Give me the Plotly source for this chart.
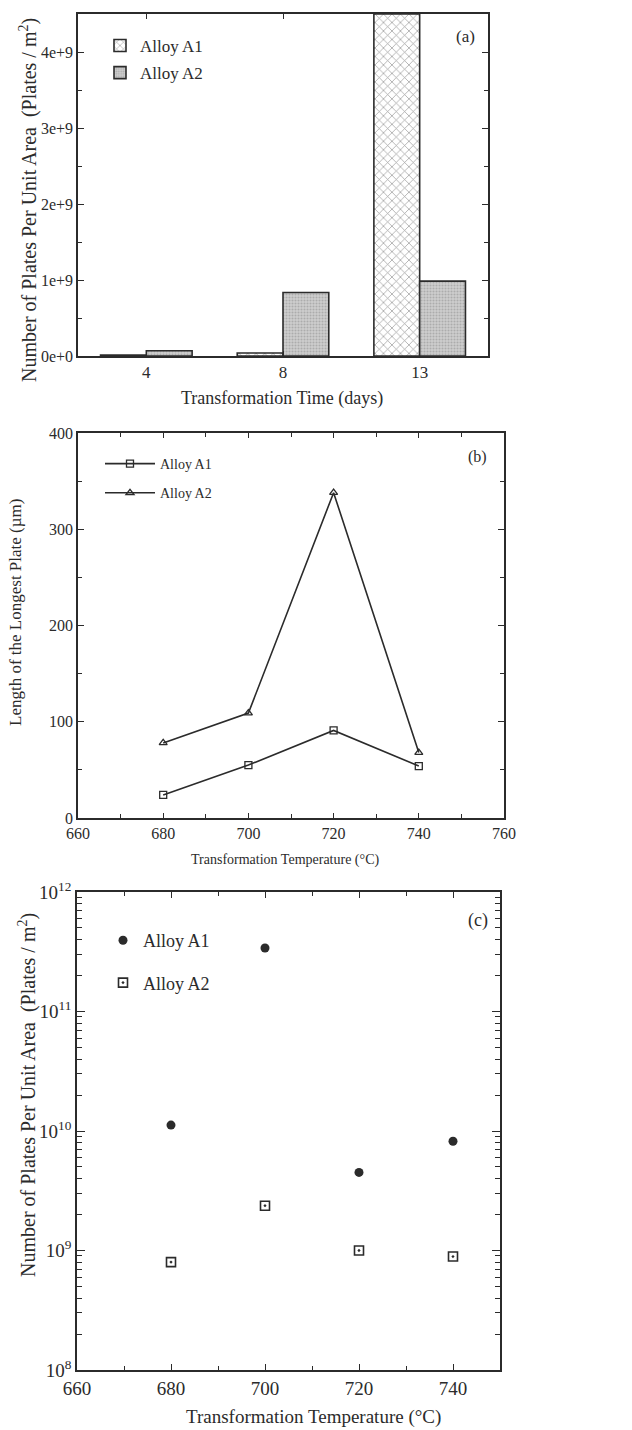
import plotly.graph_objects as go

# ---------------- data ----------------
# (a) bars
times = ["4", "8", "13"]
a1_density = [0.012e9, 0.04e9, 4.5e9]
a2_density = [0.07e9, 0.835e9, 0.985e9]
a_ytickvals = [0, 1e9, 2e9, 3e9, 4e9]
a_yticktext = ["0e+0", "1e+9", "2e+9", "3e+9", "4e+9"]

# (b) longest plate length
temps_b = [680, 700, 720, 740]
a1_length = [24, 55, 91, 54]
a2_length = [78, 109, 338, 68]

# (c) plates per unit area vs temperature (log)
temps_c = [680, 700, 720, 740]
a1_number = [1.12e10, 3.4e11, 4.5e9, 8.2e9]
a2_number = [8.0e8, 2.37e9, 1.0e9, 8.9e8]
c_ytickvals = [1e8, 1e9, 1e10, 1e11, 1e12]
c_yticktext = ["10<sup>8</sup>", "10<sup>9</sup>", "10<sup>10</sup>", "10<sup>11</sup>", "10<sup>12</sup>"]

FONT = "Liberation Serif"
INK = "#2b2b2b"
W, H = 632, 1430

def px(x):
    return x / W

def py(y):
    return (H - y) / H

fig = go.Figure()

# ---- panel (a)
fig.add_trace(go.Bar(
    x=times, y=a1_density, name="Alloy A1", xaxis="x", yaxis="y",
    marker=dict(color="white", line=dict(color=INK, width=1.6),
                pattern=dict(shape="x", fgcolor="#333", bgcolor="white", size=6, solidity=0.22)),
    legend="legend", legendgroup="a1",
))
fig.add_trace(go.Bar(
    x=times, y=a2_density, name="Alloy A2", xaxis="x", yaxis="y",
    marker=dict(color="#c4c4c4", line=dict(color=INK, width=1.6),
                pattern=dict(shape=".", fgcolor="#8a8a8a", bgcolor="#cfcfcf", size=3, solidity=0.4)),
    legend="legend", legendgroup="a2",
))

# ---- panel (b)
fig.add_trace(go.Scatter(
    x=temps_b, y=a1_length, name="Alloy A1", mode="lines+markers", xaxis="x2", yaxis="y2",
    line=dict(color=INK, width=1.6),
    marker=dict(symbol="square-open", size=7, color=INK, line=dict(width=1.3)),
    legend="legend2", legendgroup="b1",
))
fig.add_trace(go.Scatter(
    x=temps_b, y=a2_length, name="Alloy A2", mode="lines+markers", xaxis="x2", yaxis="y2",
    line=dict(color=INK, width=1.6),
    marker=dict(symbol="triangle-up-open", size=7, color=INK, line=dict(width=1.3)),
    legend="legend2", legendgroup="b2",
))

# ---- panel (c)
fig.add_trace(go.Scatter(
    x=temps_c, y=a1_number, name="Alloy A1", mode="markers", xaxis="x3", yaxis="y3",
    marker=dict(symbol="circle", size=9, color=INK),
    legend="legend3", legendgroup="c1",
))
fig.add_trace(go.Scatter(
    x=temps_c, y=a2_number, name="Alloy A2", mode="markers", xaxis="x3", yaxis="y3",
    marker=dict(symbol="square-open-dot", size=9, color=INK, line=dict(width=1.6)),
    legend="legend3", legendgroup="c2",
))

axis_common = dict(showline=True, linecolor=INK, linewidth=1.6, mirror="ticks",
                   ticks="inside", tickcolor=INK, tickwidth=1.3, showgrid=False, zeroline=False,
                   automargin=False)

minor_c = [k * 10 ** n for n in range(8, 12) for k in range(2, 10)]

fig.update_layout(
    width=W, height=H, margin=dict(l=0, r=0, t=0, b=0, pad=0, autoexpand=False),
    paper_bgcolor="white", plot_bgcolor="white",
    font=dict(family=FONT, color=INK),
    barmode="group", bargap=0.33, bargroupgap=0,
    xaxis=dict(domain=[px(78), px(488)], anchor="y", type="category",
               tickfont=dict(size=17), ticklen=5, **axis_common),
    yaxis=dict(domain=[py(356), py(14)], anchor="x", range=[0, 4.5e9],
               tickvals=a_ytickvals, ticktext=a_yticktext, tickfont=dict(size=16), ticklen=6,
               minor=dict(dtick=0.5e9, tick0=0, ticks="inside", ticklen=4, tickcolor=INK),
               **axis_common),
    xaxis2=dict(domain=[px(78), px(504)], anchor="y2", range=[660, 760],
                tickvals=[660, 680, 700, 720, 740, 760], tickfont=dict(size=16), ticklen=5,
                minor=dict(dtick=10, tick0=660, ticks="inside", ticklen=4, tickcolor=INK),
                **axis_common),
    yaxis2=dict(domain=[py(818), py(433)], anchor="x2", range=[0, 400],
                tickvals=[0, 100, 200, 300, 400], tickfont=dict(size=16), ticklen=6,
                minor=dict(dtick=50, tick0=0, ticks="inside", ticklen=4, tickcolor=INK),
                **axis_common),
    xaxis3=dict(domain=[px(77), px(500)], anchor="y3", range=[660, 750],
                tickvals=[660, 680, 700, 720, 740], tickfont=dict(size=19), ticklen=6,
                minor=dict(dtick=10, tick0=660, ticks="inside", ticklen=4, tickcolor=INK),
                **axis_common),
    yaxis3=dict(domain=[py(1370), py(892)], anchor="x3", type="log", range=[8, 12],
                tickvals=c_ytickvals, ticktext=c_yticktext, tickfont=dict(size=19), ticklen=8,
                minor=dict(tickvals=minor_c, ticks="inside", ticklen=5, tickcolor=INK),
                **axis_common),
    legend=dict(x=px(100), y=py(28), xanchor="left", yanchor="top", bgcolor="rgba(0,0,0,0)",
                font=dict(size=17, family=FONT), tracegroupgap=2, itemwidth=30),
    legend2=dict(x=px(100), y=py(448), xanchor="left", yanchor="top", bgcolor="rgba(0,0,0,0)",
                 font=dict(size=14, family=FONT), tracegroupgap=8, itemwidth=50),
    legend3=dict(x=px(103), y=py(922), xanchor="left", yanchor="top", bgcolor="rgba(0,0,0,0)",
                 font=dict(size=18, family=FONT), tracegroupgap=16, itemwidth=30),
)

annotations = [
    # panel labels
    dict(text="(a)", x=px(465), y=py(37), font=dict(size=17)),
    dict(text="(b)", x=px(477), y=py(457), font=dict(size=16)),
    dict(text="(c)", x=px(478), y=py(920), font=dict(size=18)),
    # axis titles
    dict(text="Transformation Time (days)", x=px(282), y=py(398), font=dict(size=18)),
    dict(text="Number of Plates Per Unit Area  (Plates / m<sup>2</sup>)", x=px(28), y=py(200),
         textangle=-90, font=dict(size=20)),
    dict(text="Transformation Temperature (°C)", x=px(285), y=py(860), font=dict(size=14)),
    dict(text="Length of the Longest Plate (µm)", x=px(16), y=py(613),
         textangle=-90, font=dict(size=17)),
    dict(text="Transformation Temperature (°C)", x=px(313), y=py(1417), font=dict(size=19)),
    dict(text="Number of Plates Per Unit Area  (Plates / m<sup>2</sup>)", x=px(27), y=py(1095),
         textangle=-90, font=dict(size=20)),
]
for a in annotations:
    a.update(xref="paper", yref="paper", showarrow=False, xanchor="center", yanchor="middle")
    a["font"].update(family=FONT, color=INK)
fig.update_layout(annotations=annotations)

fig.write_html("out.html", config={"displayModeBar": False},
               post_script="document.body.style.margin='0';")
